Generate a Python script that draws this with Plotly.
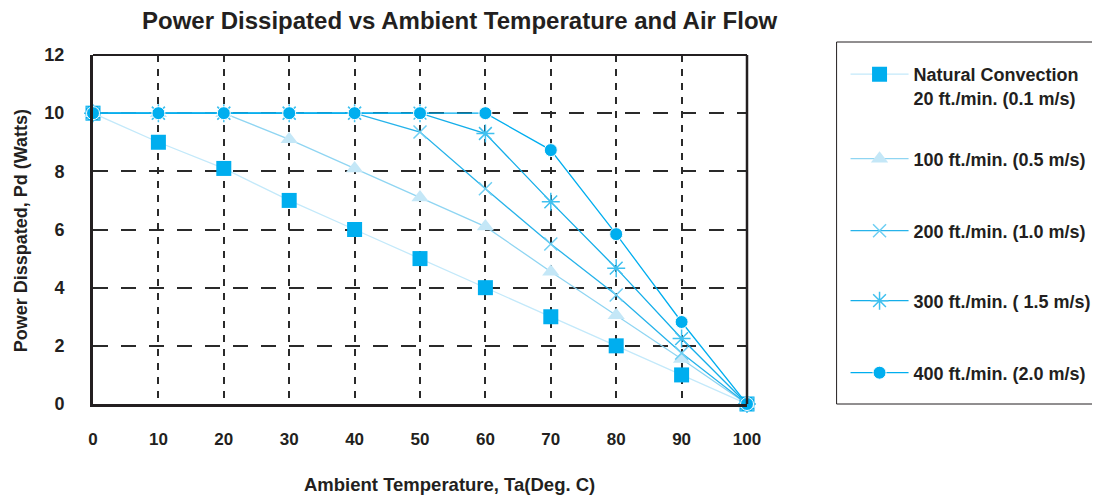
import plotly.graph_objects as go

temps = [0, 10, 20, 30, 40, 50, 60, 70, 80, 90, 100]
natural_20fpm = [10, 9, 8.1, 7, 6, 5, 4, 3, 2, 1, 0]
fpm_100 = [10, 10, 10, 9.1, 8.1, 7.1, 6.1, 4.55, 3.05, 1.55, 0]
fpm_200 = [10, 10, 10, 10, 10, 9.35, 7.4, 5.5, 3.75, 1.75, 0]
fpm_300 = [10, 10, 10, 10, 10, 10, 9.3, 6.95, 4.67, 2.25, 0]
fpm_400 = [10, 10, 10, 10, 10, 10, 10, 8.73, 5.84, 2.82, 0]

names = ["Natural Convection<br>20 ft./min. (0.1 m/s)", "100 ft./min. (0.5 m/s)",
         "200 ft./min. (1.0 m/s)", "300 ft./min. ( 1.5 m/s)", "400 ft./min. (2.0 m/s)"]
x_ticks = [0, 10, 20, 30, 40, 50, 60, 70, 80, 90, 100]
y_ticks = [0, 2, 4, 6, 8, 10, 12]

TXT = "#231f20"
FONT = "Liberation Sans"

# plot area in screen pixels
PL, PR, PT, PB = 91, 748, 55, 404
PW, PH = PR - PL, PB - PT
W, H = 1100, 496


def px(x):
    return (x - PL) / PW


def py(y):
    return (PB - y) / PH


series = [
    (natural_20fpm, "#c3e9fa", dict(symbol="square", size=15, color="#00aeef")),
    (fpm_100, "#8fd5f2", dict(symbol="triangle-up", size=15, color="#c4e7f7")),
    (fpm_200, "#27b3ea", dict(symbol="x-thin-open", size=13, color="#6fcff3",
                             line=dict(color="#6fcff3", width=1.5))),
    (fpm_300, "#14aee9", dict(symbol="asterisk-open", size=15, color="#3fc0ef",
                             line=dict(color="#3fc0ef", width=1.5))),
    (fpm_400, "#00aeef", dict(symbol="circle", size=13, color="#00aeef",
                             line=dict(color="white", width=1))),
]
legend_ids = ["legend", "legend2", "legend3", "legend4", "legend5"]
legend_y = [78, 159, 231, 301, 373]

fig = go.Figure()
for i, (vals, lc, mk) in enumerate(series):
    fig.add_trace(go.Scatter(x=temps, y=vals, name=names[i], mode="lines+markers",
                             line=dict(color=lc, width=1.3), marker=mk,
                             cliponaxis=False, legend=legend_ids[i]))

leg_common = dict(xanchor="left", font=dict(size=18, weight="bold", color=TXT, family=FONT),
                  itemwidth=58, valign="top", bgcolor="rgba(0,0,0,0)", borderwidth=0)
legends = {}
for i, lid in enumerate(legend_ids):
    d = dict(leg_common)
    d["x"] = px(847)
    if i == 0:
        d["y"] = py(legend_y[i] - 22)
        d["yanchor"] = "top"
    else:
        d["y"] = py(legend_y[i])
        d["yanchor"] = "middle"
    legends[lid] = d

fig.update_layout(
    width=W, height=H,
    margin=dict(l=PL - 6, r=W - (PR - 5), t=PT - 8, b=H - (PB - 8)),
    paper_bgcolor="white", plot_bgcolor="white",
    font=dict(family=FONT, color=TXT),
    showlegend=True,
    xaxis=dict(range=[0, 100], tickvals=x_ticks, ticktext=[str(v) for v in x_ticks],
               showgrid=True, gridcolor="#2a2a2a", gridwidth=1.5, griddash="7px,7px",
               showline=True, linecolor=TXT, linewidth=3, zeroline=False,
               ticks="", ticklabelstandoff=18,
               tickfont=dict(size=17, weight="bold", family=FONT, color=TXT)),
    yaxis=dict(range=[0, 12], tickvals=y_ticks,
               showgrid=True, gridcolor="#2a2a2a", gridwidth=1.5, griddash="15px,13px",
               showline=True, linecolor=TXT, linewidth=3, zeroline=False,
               ticks="", ticklabelstandoff=22,
               tickfont=dict(size=18, weight="bold", family=FONT, color=TXT)),
    **legends,
)

fig.add_shape(type="line", xref="paper", yref="paper", x0=0, x1=1, y0=1, y1=1,
              line=dict(color=TXT, width=2))
fig.add_shape(type="line", xref="paper", yref="paper", x0=1, x1=1, y0=0, y1=1,
              line=dict(color=TXT, width=2.5))
# legend frame
fig.add_shape(type="rect", xref="paper", yref="paper",
              x0=px(838), x1=px(1099), y0=0, y1=py(42), line=dict(color=TXT, width=1))

fig.add_annotation(text="Power Dissipated vs Ambient Temperature and Air Flow",
                   xref="paper", yref="paper", x=px(460), y=py(21),
                   xanchor="center", yanchor="middle",
                   showarrow=False, font=dict(size=24, weight="bold", family=FONT, color=TXT))
fig.add_annotation(text="Ambient Temperature, Ta(Deg. C)",
                   xref="paper", yref="paper", x=px(449), y=py(484),
                   xanchor="center", yanchor="middle",
                   showarrow=False, font=dict(size=18.5, weight="bold", family=FONT, color=TXT))
fig.add_annotation(text="Power Disspated, Pd (Watts)", textangle=-90,
                   xref="paper", yref="paper", x=px(19), y=py(231),
                   xanchor="center", yanchor="middle",
                   showarrow=False, font=dict(size=18, weight="bold", family=FONT, color=TXT))

fig.write_html("out.html")
